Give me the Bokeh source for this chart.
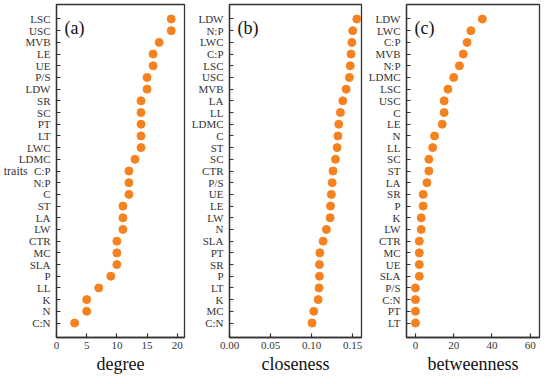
from bokeh.plotting import figure
from bokeh.layouts import row
from bokeh.models import FactorRange, Range1d, FixedTicker, Label, NumeralTickFormatter
from bokeh.embed import file_html
from bokeh.resources import INLINE

# ---- data (top to bottom order) ----
degree_traits = ["LSC", "USC", "MVB", "LE", "UE", "P/S", "LDW", "SR", "SC", "PT", "LT", "LWC",
                 "LDMC", "C:P", "N:P", "C", "ST", "LA", "LW", "CTR", "MC", "SLA", "P", "LL", "K", "N", "C:N"]
degree_values = [19, 19, 17, 16, 16, 15, 15, 14, 14, 14, 14, 14,
                 13, 12, 12, 12, 11, 11, 11, 10, 10, 10, 9, 7, 5, 5, 3]

closeness_traits = ["LDW", "N:P", "LWC", "C:P", "LSC", "USC", "MVB", "LA", "LL", "LDMC", "C", "ST",
                    "SC", "CTR", "P/S", "UE", "LE", "LW", "N", "SLA", "PT", "SR", "P", "LT", "K", "MC", "C:N"]
closeness_values = [0.155, 0.150, 0.149, 0.148, 0.147, 0.146, 0.142, 0.138, 0.135, 0.133, 0.132, 0.131,
                    0.129, 0.126, 0.125, 0.124, 0.123, 0.1225, 0.118, 0.114, 0.110, 0.1095, 0.1095, 0.109, 0.108, 0.1026, 0.1006]

betweenness_traits = ["LDW", "LWC", "C:P", "MVB", "N:P", "LDMC", "LSC", "USC", "C", "LE", "N", "LL",
                      "SC", "ST", "LA", "SR", "P", "K", "LW", "CTR", "MC", "UE", "SLA", "P/S", "C:N", "PT", "LT"]
betweenness_values = [35.0, 29.0, 27.0, 25.0, 23.0, 20.0, 17.0, 15.0, 15.0, 14.0, 10.0, 9.0,
                      7.0, 7.0, 6.0, 4.0, 4.0, 3.0, 3.0, 2.0, 2.0, 2.0, 2.0, 0.0, 0.0, 0.0, 0.0]

degree_ticks = [0, 5, 10, 15, 20]
closeness_ticks = [0.0, 0.05, 0.10, 0.15]
betweenness_ticks = [0, 20, 40, 60]

DOT = "#F5821F"
INK = "#333333"
FONT = "Times New Roman"
BOTTOM = 47


def panel(traits, values, xr, ticks, xlabel, tag, width, height, bl, br, fmt=None):
    factors = list(reversed(traits))
    p = figure(width=width, height=height, output_backend="svg", toolbar_location=None,
               y_range=FactorRange(factors=factors, range_padding=0.74, range_padding_units="absolute"),
               x_range=Range1d(*xr),
               min_border_left=bl, min_border_right=br, min_border_top=4, min_border_bottom=30)
    p.scatter(x=values, y=traits, size=8, color=DOT, line_color=DOT)
    p.xgrid.visible = False
    p.ygrid.visible = False
    p.outline_line_color = INK
    p.outline_line_width = 1.3
    p.outline_line_alpha = 1.0
    for ax in (p.xaxis[0], p.yaxis[0]):
        ax.major_tick_in = 4
        ax.major_tick_out = 0
        ax.minor_tick_in = 0
        ax.minor_tick_out = 0
        ax.axis_line_color = INK
        ax.axis_line_width = 1.3
        ax.major_tick_line_color = INK
        ax.major_tick_line_width = 1.2
        ax.major_label_text_font = FONT
        ax.major_label_text_font_size = "11px"
        ax.major_label_text_color = INK
    p.xaxis.major_label_standoff = 4
    p.yaxis.major_label_standoff = 6
    p.xaxis.ticker = FixedTicker(ticks=ticks)
    if fmt:
        p.xaxis.formatter = NumeralTickFormatter(format=fmt)
    p.xaxis.axis_label = xlabel
    p.xaxis.axis_label_text_font = FONT
    p.xaxis.axis_label_text_font_style = "normal"
    p.xaxis.axis_label_text_font_size = "18px"
    p.xaxis.axis_label_text_color = "#111111"
    p.xaxis.axis_label_standoff = 2
    p.add_layout(Label(x=8, y=height - 4 - BOTTOM - 15, x_units="screen", y_units="screen", text=tag,
                       text_font=FONT, text_font_size="18px", text_color="#111111",
                       text_baseline="middle"))
    return p


H = 376
pa = panel(degree_traits, degree_values, (0, 21.2), degree_ticks, "degree", "(a)", 188, H, 49, 4)
pb = panel(closeness_traits, closeness_values, (0, 0.1607), closeness_ticks, "closeness", "(b)", 177, H, 38, 4, fmt="0.00")
pc = panel(betweenness_traits, betweenness_values, (-4.7, 64.9), betweenness_ticks, "betweenness", "(c)", 177, H, 40, 3)

pa.yaxis.axis_label = "traits"
pa.yaxis.axis_label_orientation = "horizontal"
pa.yaxis.axis_label_standoff = -12
pa.yaxis.axis_label_text_font = FONT
pa.yaxis.axis_label_text_font_style = "normal"
pa.yaxis.axis_label_text_font_size = "12px"
pa.yaxis.axis_label_text_color = INK

layout = row(pa, pb, pc)
open("out.html", "w").write(file_html(layout, INLINE))
